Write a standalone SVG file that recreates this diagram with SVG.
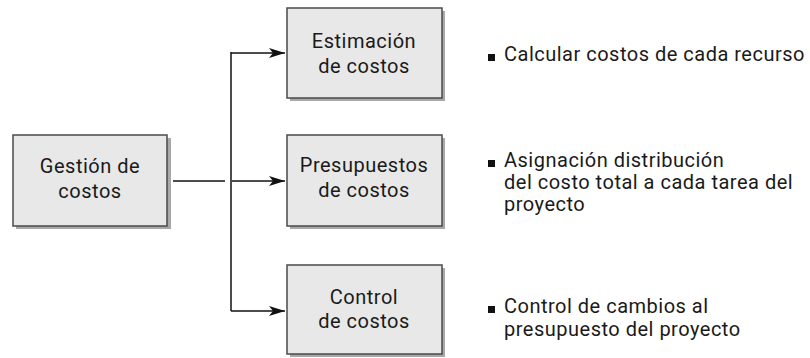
<svg xmlns="http://www.w3.org/2000/svg" width="810" height="358" viewBox="0 0 810 358">
<style>
.box{fill:#e8e8e8;stroke:#4a4a4a;stroke-width:1.5}
.sh{fill:#a8a8a8}
.t{font-family:Roboto,"Noto Sans",sans-serif;font-size:20px;letter-spacing:0.5px;fill:#1a1a1a}
.c{text-anchor:middle}
.ln{stroke:#111;stroke-width:1.5;fill:none}
</style>
<defs>
<marker id="ah" viewBox="0 0 16 10" refX="16" refY="5" markerWidth="16" markerHeight="10" markerUnits="userSpaceOnUse" orient="auto">
<path d="M0,0 L16,5 L0,10 L4,5 Z" fill="#111"/>
</marker>
</defs>
<rect width="810" height="358" fill="#fff"/>
<g id="connectors">
<path class="ln" d="M173,181 H225"/>
<path class="ln" d="M231,311 V52"/>
<path class="ln" d="M231,53 H285" marker-end="url(#ah)"/>
<path class="ln" d="M232,181 H285" marker-end="url(#ah)"/>
<path class="ln" d="M231,311 H285" marker-end="url(#ah)"/>
</g>
<g id="gestion">
<rect class="sh" x="16" y="138" width="155" height="91"/>
<rect class="box" x="13" y="135" width="154" height="91"/>
<text class="t c" x="90" y="173">Gestión de</text>
<text class="t c" x="90" y="198">costos</text>
</g>
<g id="estimacion">
<rect class="sh" x="290" y="11" width="155" height="90"/>
<rect class="box" x="287" y="8" width="155" height="90"/>
<text class="t c" x="364" y="48">Estimación</text>
<text class="t c" x="364" y="73">de costos</text>
</g>
<g id="presupuestos">
<rect class="sh" x="290" y="138" width="155" height="91"/>
<rect class="box" x="287" y="135" width="155" height="91"/>
<text class="t c" x="364" y="172">Presupuestos</text>
<text class="t c" x="364" y="197">de costos</text>
</g>
<g id="control">
<rect class="sh" x="290" y="268" width="155" height="89"/>
<rect class="box" x="287" y="265" width="155" height="89"/>
<text class="t c" x="364" y="304">Control</text>
<text class="t c" x="364" y="328">de costos</text>
</g>
<g id="desc1">
<rect x="488" y="54" width="7" height="7" fill="#111"/>
<text class="t" x="504" y="61">Calcular costos de cada recurso</text>
</g>
<g id="desc2">
<rect x="488" y="160" width="7" height="7" fill="#111"/>
<text class="t" x="504" y="167">Asignación distribución</text>
<text class="t" x="504" y="189">del costo total a cada tarea del</text>
<text class="t" x="504" y="211">proyecto</text>
</g>
<g id="desc3">
<rect x="488" y="306" width="7" height="7" fill="#111"/>
<text class="t" x="504" y="313">Control de cambios al</text>
<text class="t" x="504" y="336">presupuesto del proyecto</text>
</g>
</svg>
